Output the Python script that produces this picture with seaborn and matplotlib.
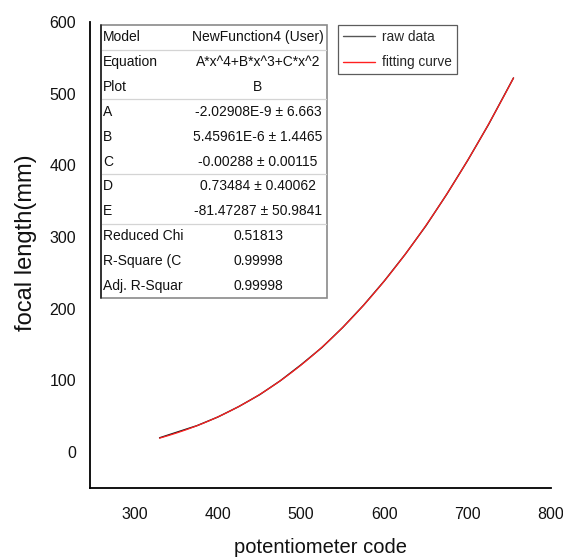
import numpy as np
import pandas as pd
import matplotlib
matplotlib.use("Agg")
import matplotlib.pyplot as plt
from matplotlib.patches import Rectangle
from matplotlib.lines import Line2D
import seaborn as sns

# Measured focal length against potentiometer code
raw_code = [330, 375, 400, 425, 450, 475, 500, 525, 550, 575, 600,
            625, 650, 675, 700, 725, 755]
raw_focal = [20, 37, 49, 63.5, 80, 99.6, 122, 146, 174, 205, 239,
             276, 316, 360, 407, 457, 522]

# Fit parameters of A*x^4+B*x^3+C*x^2+D*x+E
fit_params = {"A": -2.02908e-9, "B": 5.45961e-6, "C": -0.00288, "D": 0.73484, "E": -81.47287}

# Fit report rows (label, value)
report_labels = ["Model", "Equation", "Plot", "A", "B", "C", "D", "E",
                 "Reduced Chi", "R-Square (C", "Adj. R-Squar"]
report_values = ["NewFunction4 (User)", "A*x^4+B*x^3+C*x^2", "B",
                 "-2.02908E-9 \u00b1 6.663", "5.45961E-6 \u00b1 1.4465",
                 "-0.00288 \u00b1 0.00115", "0.73484 \u00b1 0.40062",
                 "-81.47287 \u00b1 50.9841", "0.51813", "0.99998", "0.99998"]

x_ticks = [300, 400, 500, 600, 700, 800]
y_ticks = [0, 100, 200, 300, 400, 500, 600]

sns.set_style("white")
plt.rcParams["font.family"] = ["Liberation Sans", "DejaVu Sans"]

W, H = 563, 559
fig = plt.figure(figsize=(W / 100, H / 100), dpi=100)


def fx(x):
    return x / W


def fy(y):
    return 1 - y / H


ax = fig.add_axes([fx(90), fy(488), (551 - 90) / W, (488 - 22) / H])

raw_df = pd.DataFrame({"code": raw_code, "focal": raw_focal})
xs = np.linspace(min(raw_code), max(raw_code), 200)
p = fit_params
fit_df = pd.DataFrame({"code": xs,
                       "focal": p["A"] * xs**4 + p["B"] * xs**3 + p["C"] * xs**2 + p["D"] * xs + p["E"]})

sns.lineplot(data=raw_df, x="code", y="focal", ax=ax, color="#1a1a1a", lw=1.0)
sns.lineplot(data=fit_df, x="code", y="focal", ax=ax, color="#ff2020", lw=0.9)

ax.set_xlim(246.5, 800)
ax.set_ylim(-50, 600)
ax.set_xticks(x_ticks)
ax.set_yticks(y_ticks)
ax.tick_params(axis="both", length=0, labelsize=11.5, colors="#111111")
ax.tick_params(axis="x", pad=14)
ax.tick_params(axis="y", pad=10)
for s in ["top", "right"]:
    ax.spines[s].set_visible(False)
for s in ["left", "bottom"]:
    ax.spines[s].set_color("black")
    ax.spines[s].set_linewidth(1.3)

ax.set_xlabel("potentiometer code", fontsize=14.5, color="#111111")
ax.set_ylabel("focal length(mm)", fontsize=17, color="#111111")
ax.xaxis.set_label_coords(0.5, -0.108)
ax.yaxis.set_label_coords(-0.114, 0.526)

# Fit report table
tl, tr, tt, tb = 101, 327, 25, 298
rh = (tb - tt) / len(report_labels)
fig.patches.append(Rectangle((fx(tl), fy(tb)), (tr - tl) / W, (tb - tt) / H,
                             transform=fig.transFigure, facecolor="white",
                             edgecolor="#8a8a8a", lw=1.2, zorder=5))
fig.lines.append(Line2D([fx(tl), fx(tl)], [fy(tt), fy(tb)], transform=fig.transFigure,
                        color="#222222", lw=1.2, zorder=6))
for i in [1, 3, 6, 8]:
    yy = tt + i * rh
    fig.lines.append(Line2D([fx(tl + 1), fx(tr - 1)], [fy(yy), fy(yy)],
                            transform=fig.transFigure, color="#d4d4d4", lw=0.9, zorder=6))
for i, (lab, val) in enumerate(zip(report_labels, report_values)):
    yc = tt + (i + 0.5) * rh
    fig.text(fx(103), fy(yc), lab, ha="left", va="center", fontsize=10, color="#111111", zorder=7)
    fig.text(fx(258), fy(yc), val, ha="center", va="center", fontsize=10, color="#111111", zorder=7)

# Legend
handles = [Line2D([], [], color="#555555", lw=1.0), Line2D([], [], color="#ff2020", lw=1.0)]
leg = fig.legend(handles, ["raw data", "fitting curve"], loc="upper left",
                 bbox_to_anchor=(fx(338), fy(25)), fontsize=9.8, frameon=True,
                 fancybox=False, handlelength=2.4, handletextpad=0.5,
                 borderpad=0.35, labelspacing=0.85, borderaxespad=0)
leg.get_frame().set_edgecolor("#333333")
leg.get_frame().set_linewidth(0.9)

fig.savefig("out.png", dpi=100)
